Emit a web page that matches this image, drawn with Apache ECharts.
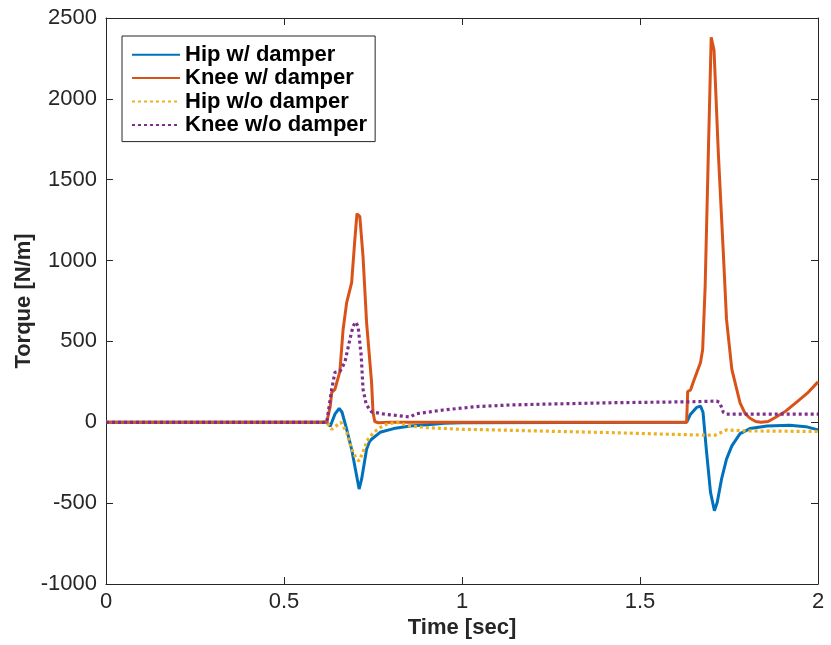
<!DOCTYPE html>
<html>
<head>
<meta charset="utf-8">
<script src="https://cdn.jsdelivr.net/npm/echarts@6/dist/echarts.min.js"></script>
<style>
html,body{margin:0;padding:0;background:#fff;}
#c{width:831px;height:645px;}
</style>
</head>
<body>
<div id="c"></div>
<script>
// Series names
var seriesNames = ['Hip w/ damper', 'Knee w/ damper', 'Hip w/o damper', 'Knee w/o damper'];
// Axis ticks
var xTicks = [0, 0.5, 1, 1.5, 2];
var yTicks = [-1000, -500, 0, 500, 1000, 1500, 2000, 2500];

// [time (s), torque (N/m)]
var hipDamper = [[0,0],[0.62,0],[0.624,0],[0.630,-25],[0.643,50],[0.655,86],[0.66,80],[0.663,62],[0.676,-43],[0.690,-167],[0.704,-331],[0.711,-413],[0.718,-352],[0.732,-167],[0.740,-120],[0.746,-105],[0.770,-62],[0.808,-39],[0.854,-23],[0.92,-12],[0.95,-6],[1.0,-3],[1.3,-2],[1.631,0],[1.642,50],[1.659,92],[1.670,100],[1.677,62],[1.687,-185],[1.698,-432],[1.709,-547],[1.717,-494],[1.729,-352],[1.743,-228],[1.758,-146],[1.781,-70],[1.809,-39],[1.857,-23],[1.92,-18],[1.966,-27],[2.0,-47]];
var kneeDamper = [[0,0],[0.62,0],[0.624,0],[0.630,100],[0.634,185],[0.643,204],[0.657,315],[0.666,574],[0.676,740],[0.690,864],[0.699,1130],[0.705,1290],[0.710,1285],[0.713,1272],[0.722,1024],[0.732,617],[0.746,247],[0.750,62],[0.755,5],[0.765,-3],[0.8,0],[1.0,0],[1.3,0],[1.631,0],[1.634,190],[1.642,200],[1.650,250],[1.670,370],[1.676,450],[1.683,840],[1.692,1666],[1.700,2380],[1.704,2385],[1.708,2300],[1.720,1666],[1.734,1049],[1.743,636],[1.758,327],[1.781,120],[1.795,55],[1.809,25],[1.825,5],[1.84,0],[1.86,5],[1.88,30],[1.91,70],[1.94,125],[1.97,180],[2.0,250]];
var hipNoDamper = [[0,0],[0.62,0],[0.624,0],[0.634,-43],[0.66,0],[0.676,-62],[0.690,-167],[0.704,-228],[0.711,-239],[0.722,-185],[0.733,-115],[0.751,-64],[0.770,-33],[0.788,-12],[0.816,0],[0.854,-23],[0.90,-33],[0.994,-43],[1.088,-47],[1.2,-53],[1.42,-64],[1.55,-72],[1.65,-78],[1.697,-80],[1.71,-80],[1.729,-62],[1.743,-47],[1.79,-53],[2.0,-57]];
var kneeNoDamper = [[0,0],[0.62,0],[0.624,0],[0.634,204],[0.643,309],[0.657,315],[0.671,370],[0.685,512],[0.694,594],[0.701,620],[0.708,594],[0.717,409],[0.722,204],[0.731,110],[0.746,64],[0.783,50],[0.854,33],[0.872,53],[0.947,76],[1.041,97],[1.135,107],[1.209,111],[1.425,121],[1.649,127],[1.715,131],[1.724,123],[1.734,62],[1.743,50],[2.0,50]];

var colors = ['#0072BD', '#D95319', '#EDB120', '#7E2F8E'];
var axisColor = '#262626';
var fontFam = 'Liberation Sans, Arial, Helvetica, sans-serif';

function mkSeries(name, data, color, dotted) {
  return {
    name: name, type: 'line', data: data, symbol: 'circle', showSymbol: false, smooth: false,
    xAxisIndex: 0, yAxisIndex: 0,
    lineStyle: { color: color, width: dotted ? 3.2 : 3, type: dotted ? [3, 3] : 'solid', cap: 'butt' },
    itemStyle: { color: color },
    emphasis: { disabled: true },
    animation: false
  };
}

var chart = echarts.init(document.getElementById('c'), null, { renderer: 'canvas' });
var baseAxis = {
  axisLine: { show: true, onZero: false, lineStyle: { color: axisColor, width: 1 } },
  axisTick: { show: true, inside: true, length: 7, lineStyle: { color: axisColor, width: 1 } },
  splitLine: { show: false }
};
function fmt(v) { return String(v); }
chart.setOption({
  animation: false,
  backgroundColor: '#fff',
  grid: { left: 106, right: 13, top: 18, bottom: 61, containLabel: false },
  legend: {
    data: seriesNames,
    orient: 'vertical',
    left: 122, top: 36,
    itemWidth: 48, itemHeight: 14, itemGap: 0,
    padding: [7, 8, 5, 9],
    borderColor: axisColor, borderWidth: 1, backgroundColor: '#fff',
    selectedMode: false,
    itemStyle: { color: 'rgba(0,0,0,0)', borderWidth: 0, opacity: 0 },
    textStyle: { fontFamily: fontFam, fontWeight: 'bold', fontSize: 22, color: '#000', lineHeight: 23.4 }
  },
  xAxis: [
    Object.assign({}, baseAxis, {
      type: 'value', min: xTicks[0], max: xTicks[xTicks.length - 1], interval: 0.5, position: 'bottom',
      name: 'Time [sec]', nameLocation: 'middle', nameGap: 33, nameMoveOverlap: false,
      nameTextStyle: { fontFamily: fontFam, fontWeight: 'bold', fontSize: 22, color: axisColor },
      axisLabel: { show: true, margin: 7, fontFamily: fontFam, fontSize: 22, color: axisColor, formatter: fmt }
    }),
    Object.assign({}, baseAxis, {
      type: 'value', min: xTicks[0], max: xTicks[xTicks.length - 1], interval: 0.5, position: 'top',
      axisLabel: { show: false }
    })
  ],
  yAxis: [
    Object.assign({}, baseAxis, {
      type: 'value', min: yTicks[0], max: yTicks[yTicks.length - 1], interval: 500, position: 'left',
      name: 'Torque [N/m]', nameLocation: 'middle', nameGap: 71, nameMoveOverlap: false,
      nameTextStyle: { fontFamily: fontFam, fontWeight: 'bold', fontSize: 22, color: axisColor },
      axisLabel: { show: true, margin: 9, fontFamily: fontFam, fontSize: 22, color: axisColor, formatter: fmt }
    }),
    Object.assign({}, baseAxis, {
      type: 'value', min: yTicks[0], max: yTicks[yTicks.length - 1], interval: 500, position: 'right',
      axisLabel: { show: false }
    })
  ],
  series: [
    mkSeries(seriesNames[0], hipDamper, colors[0], false),
    mkSeries(seriesNames[1], kneeDamper, colors[1], false),
    mkSeries(seriesNames[2], hipNoDamper, colors[2], true),
    mkSeries(seriesNames[3], kneeNoDamper, colors[3], true)
  ]
});
</script>
</body>
</html>
